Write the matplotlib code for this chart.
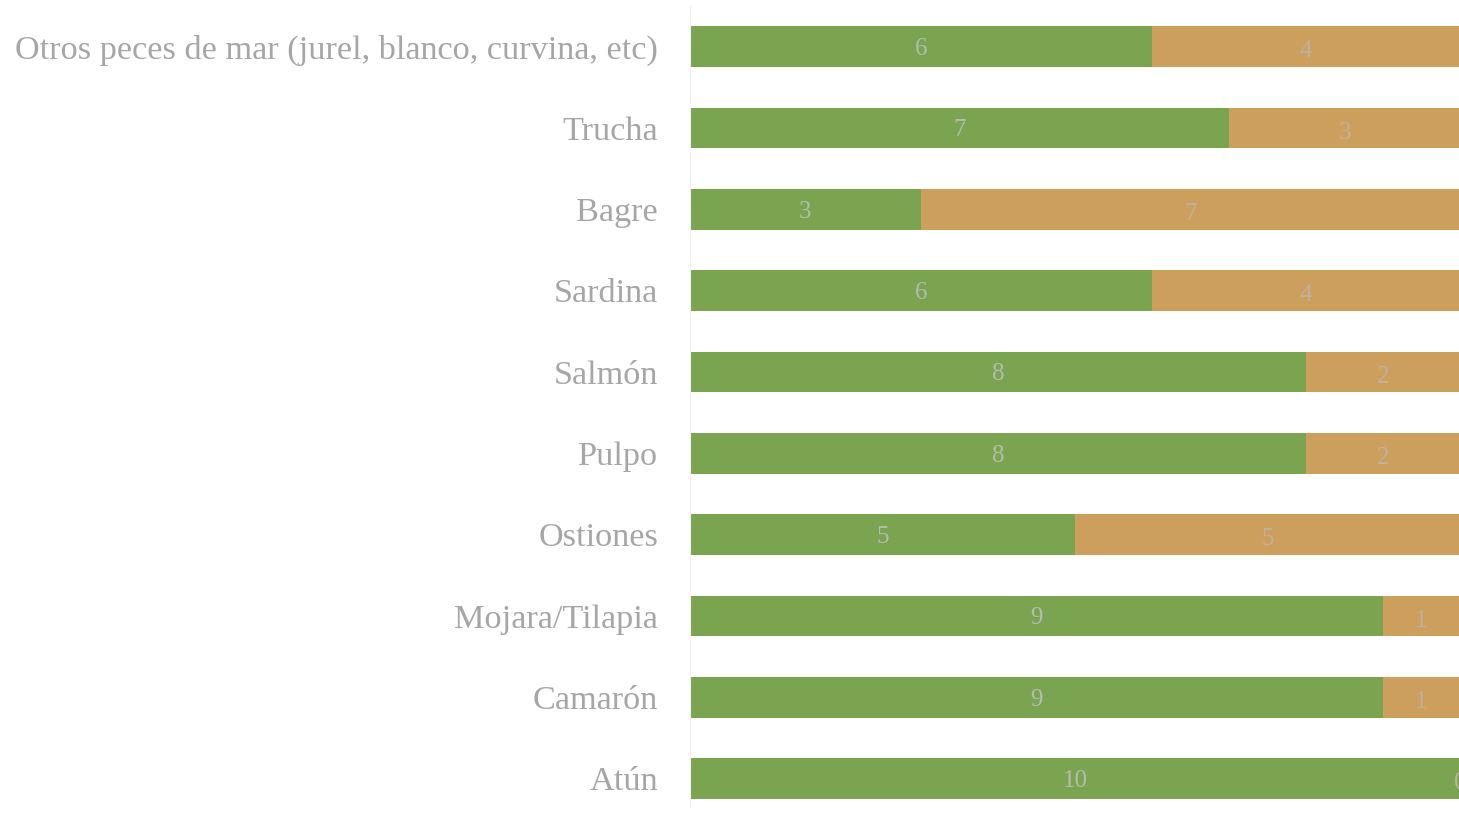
import matplotlib
matplotlib.use("Agg")
import matplotlib.pyplot as plt

# categories listed bottom to top
categorias = ["Atún", "Camarón", "Mojara/Tilapia", "Ostiones", "Pulpo",
              "Salmón", "Sardina", "Bagre", "Trucha",
              "Otros peces de mar (jurel, blanco, curvina, etc)"]
si = [10, 9, 9, 5, 8, 8, 6, 3, 7, 6]
no = [0, 1, 1, 5, 2, 2, 4, 7, 3, 4]

verde = "#7ba451"
naranja = "#cd9f5d"
gris = "#a6a6a6"

plt.rcParams["font.family"] = ["Liberation Serif", "DejaVu Serif"]

fig = plt.figure(figsize=(14.59, 8.13), dpi=100)
ax = fig.add_axes([690 / 1459, 0, 770 / 1459, 1])

y = list(range(len(categorias)))
ax.barh(y, si, height=0.5, color=verde)
ax.barh(y, no, left=si, height=0.5, color=naranja)

for i in y:
    ax.text(si[i] / 2, i - 0.03, str(si[i]), ha="center", va="center",
            fontsize=18, color="#b4bcb0")
    ax.text(si[i] + no[i] / 2, i - 0.06, str(no[i]), ha="center", va="center",
            fontsize=18, color="#bdb2a0")

ax.set_xlim(0, 10)
ax.set_ylim(-0.424, 9.572)
ax.set_yticks(y)
ax.set_yticklabels(categorias, fontsize=24.7, color=gris)
ax.tick_params(axis="y", length=0, pad=23)
ax.set_xticks([])
for s in ["top", "right", "bottom"]:
    ax.spines[s].set_visible(False)
ax.spines["left"].set_color("#f0f0f0")
ax.spines["left"].set_bounds(-0.35, 9.5)

fig.savefig("out.png", dpi=100)
